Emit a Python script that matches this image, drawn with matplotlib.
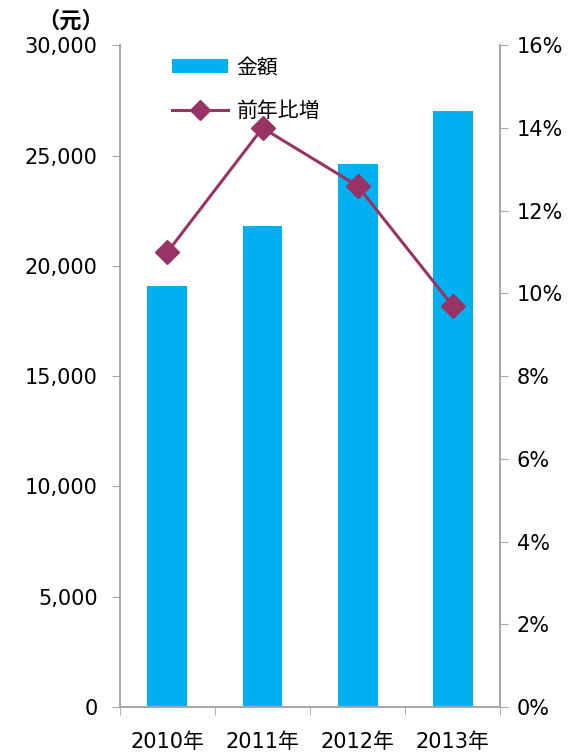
import matplotlib
matplotlib.use('Agg')
import matplotlib.pyplot as plt
from matplotlib.ticker import FuncFormatter

plt.rcParams['font.family'] = ['DejaVu Sans', 'Noto Sans CJK JP']

# 数据
years = ['2010年', '2011年', '2012年', '2013年']
amount = [19100, 21800, 24600, 27000]
growth = [11.0, 14.0, 12.6, 9.7]

colorBar = '#00B0F0'
colorLine = '#993366'
colorAxis = '#A6A6A6'

fig = plt.figure(figsize=(5.71, 7.54), dpi=100)
ax = fig.add_axes([0.210, 0.0623, 0.666, 0.8777])
ax2 = ax.twinx()

x = list(range(len(years)))
b = ax.bar(x, amount, width=0.42, color=colorBar, label='金額', zorder=2)
ln, = ax2.plot(x, growth, color=colorLine, lw=2.2, marker='D', markersize=12,
               label='前年比増', zorder=3)

ax.set_xlim(-0.5, 3.5)
ax.set_ylim(0, 30000)
ax.set_yticks(range(0, 30001, 5000))
ax.yaxis.set_major_formatter(FuncFormatter(lambda v, p: '{:,.0f}'.format(v)))
ax2.set_ylim(0, 16)
ax2.set_yticks(range(0, 17, 2))
ax2.yaxis.set_major_formatter(FuncFormatter(lambda v, p: '%d%%' % v))

ax.set_xticks(x)
ax.set_xticklabels(years)
ax.set_xticks([-0.5, 0.5, 1.5, 2.5, 3.5], minor=True)
ax.tick_params(axis='x', which='major', length=0, labelsize=15, pad=18)
ax.tick_params(axis='x', which='minor', length=6, color=colorAxis, direction='out')
ax.tick_params(axis='y', length=6, color=colorAxis, labelsize=15, pad=10)
ax2.tick_params(axis='y', length=6, color=colorAxis, labelsize=15, pad=6)

for a in (ax, ax2):
    a.spines['top'].set_visible(False)
    for s in ['left', 'right', 'bottom']:
        a.spines[s].set_color(colorAxis)
        a.spines[s].set_linewidth(1.2)

# 单位
fig.text(0.066, 0.972, '（元）', fontsize=16, fontweight='bold',
         family=['Noto Sans CJK JP'], ha='left', va='center')

leg = fig.legend([b, ln], ['金額', '前年比増'], loc='upper left',
                 bbox_to_anchor=(0.301, 0.924), frameon=False, fontsize=15,
                 handlelength=2.7, handletextpad=0.4, labelspacing=1.15,
                 borderpad=0, borderaxespad=0, markerscale=0.85)

plt.savefig('out.png', dpi=100)
